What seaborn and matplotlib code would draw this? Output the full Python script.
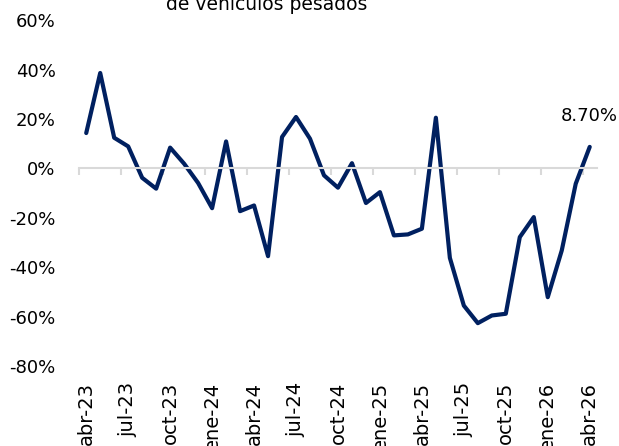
import pandas as pd
import seaborn as sns
import matplotlib.pyplot as plt
import matplotlib.transforms as mtransforms

meses = ["ene", "feb", "mar", "abr", "may", "jun", "jul", "ago", "sep", "oct", "nov", "dic"]
periodos = [f"{meses[(3 + i) % 12]}-{23 + (3 + i) // 12}" for i in range(37)]

variacion = [14.3, 38.6, 12.4, 8.9, -3.8, -8.2, 8.4, 1.9, -5.9, -16.1,
             10.9, -17.3, -15.0, -35.5, 12.7, 20.8, 12.0, -2.8, -7.8, 2.1,
             -14.0, -9.6, -27.1, -26.7, -24.4, 20.5, -36.2, -55.5, -62.6, -59.5,
             -58.8, -27.8, -19.7, -52.1, -33.2, -6.2, 8.7]

df = pd.DataFrame({"periodo": periodos, "pos": range(len(periodos)),
                   "var": [v / 100 for v in variacion]})

sns.set_theme(style='white')
plt.rcParams['font.family'] = ['DejaVu Sans']
plt.rcParams['text.color'] = 'black'

fig = plt.figure(figsize=(6.19, 4.46), dpi=100)
ax = fig.add_axes([0.128, 0.179, 0.836, 0.776])

sns.lineplot(data=df, x="pos", y="var", color="#002060", linewidth=3.0, ax=ax)

ax.set_xlim(-0.5, len(df) - 0.5)
ax.set_ylim(-0.8, 0.6)
ax.set_yticks([-0.8, -0.6, -0.4, -0.2, 0, 0.2, 0.4, 0.6])
ax.set_yticklabels([f"{int(round(t * 100))}%" for t in ax.get_yticks()], fontsize=13, color='black')
ax.tick_params(axis='y', length=0, pad=17)

for s in ["top", "right", "left"]:
    ax.spines[s].set_visible(False)
ax.spines["bottom"].set_position(("data", 0))
ax.spines["bottom"].set_color("#d9d9d9")
ax.spines["bottom"].set_linewidth(1.5)
ax.set_xticks([x - 0.5 for x in range(0, len(df), 3)])
ax.set_xticklabels([])
ax.tick_params(axis='x', direction='out', length=5, width=1.5, color="#d9d9d9", bottom=True)
ax.set_xlabel("")
ax.set_ylabel("")

# etiquetas de meses abajo, cada 3 meses
trans = mtransforms.blended_transform_factory(ax.transData, ax.transAxes)
for i in range(0, len(df), 3):
    ax.text(df["pos"][i], -0.046, df["periodo"][i], transform=trans, rotation=90,
            ha='center', va='top', fontsize=14, color='black', clip_on=False)

ax.annotate(f"{variacion[-1]:.2f}%", (df["pos"].iloc[-1], df["var"].iloc[-1]),
            xytext=(0, 22), textcoords='offset points', ha='center', va='center',
            fontsize=13, color='black')

fig.text(0.431, 0.978, "de vehículos pesados", ha='center', va='baseline',
         fontsize=13.5, color='black')

fig.savefig("out.png", dpi=100)
